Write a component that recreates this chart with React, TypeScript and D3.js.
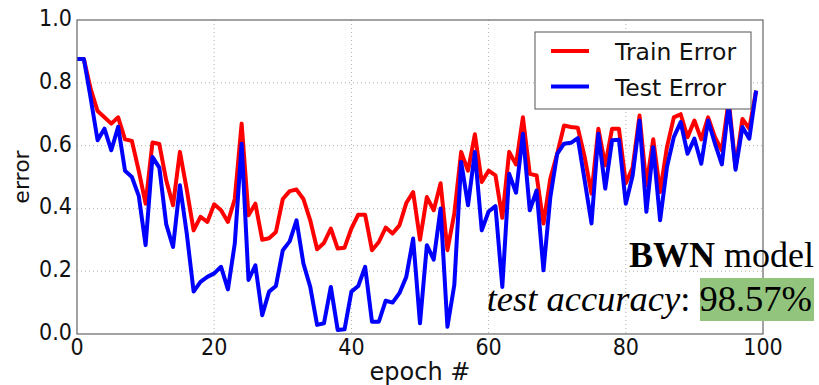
import * as d3 from 'd3';

const epochs = d3.range(0, 100);

const trainError = [
  0.876, 0.876, 0.78, 0.71, 0.69, 0.67, 0.69, 0.62, 0.615, 0.52,
  0.415, 0.61, 0.605, 0.49, 0.41, 0.58, 0.46, 0.33, 0.373, 0.357,
  0.413, 0.394, 0.357, 0.43, 0.67, 0.378, 0.415, 0.3, 0.305, 0.325,
  0.43, 0.455, 0.46, 0.43, 0.362, 0.27, 0.29, 0.336, 0.272, 0.275,
  0.336, 0.38, 0.38, 0.267, 0.293, 0.339, 0.32, 0.346, 0.417, 0.452,
  0.3, 0.436, 0.394, 0.48, 0.267, 0.383, 0.58, 0.52, 0.636, 0.484,
  0.52, 0.505, 0.37, 0.58, 0.54, 0.69, 0.51, 0.505, 0.352, 0.495,
  0.574, 0.664, 0.659, 0.657, 0.564, 0.447, 0.654, 0.537, 0.654, 0.654,
  0.48, 0.53, 0.696, 0.473, 0.62, 0.452, 0.595, 0.69, 0.7, 0.627,
  0.68, 0.62, 0.69, 0.627, 0.585, 0.745, 0.53, 0.685, 0.654, 0.775,
];

const testError = [
  0.876, 0.876, 0.75, 0.617, 0.654, 0.585, 0.66, 0.52, 0.5, 0.44,
  0.283, 0.564, 0.53, 0.35, 0.277, 0.474, 0.32, 0.135, 0.166, 0.182,
  0.193, 0.214, 0.142, 0.288, 0.606, 0.172, 0.219, 0.06, 0.135, 0.153,
  0.267, 0.295, 0.362, 0.225, 0.15, 0.029, 0.034, 0.15, 0.013, 0.015,
  0.135, 0.153, 0.214, 0.039, 0.039, 0.106, 0.1, 0.13, 0.182, 0.304,
  0.034, 0.283, 0.237, 0.4, 0.023, 0.156, 0.548, 0.41, 0.58, 0.33,
  0.39, 0.407, 0.15, 0.51, 0.45, 0.638, 0.394, 0.457, 0.203, 0.436,
  0.574, 0.606, 0.609, 0.624, 0.49, 0.352, 0.638, 0.463, 0.617, 0.619,
  0.415, 0.505, 0.68, 0.389, 0.595, 0.362, 0.532, 0.627, 0.675, 0.574,
  0.622, 0.542, 0.68, 0.606, 0.54, 0.73, 0.523, 0.659, 0.622, 0.775,
];

const xTicks = [0, 20, 40, 60, 80, 100];
const yTicks = [0, 0.2, 0.4, 0.6, 0.8, 1.0];

const seriesList = [
  { name: 'Train Error', values: trainError, color: '#ff0000' },
  { name: 'Test Error', values: testError, color: '#0000ff' },
];

const W = 819;
const H = 385;
const margin = { left: 77, right: 56, top: 20, bottom: 51 };
const sans = '"DejaVu Sans", sans-serif';
const serif = '"Liberation Serif", "Times New Roman", serif';

export default function App() {
  const x = d3.scaleLinear().domain([0, 100]).range([margin.left, W - margin.right]);
  const y = d3.scaleLinear().domain([0, 1]).range([H - margin.bottom, margin.top]);

  const line = d3.line<number>()
    .x((_, i) => x(epochs[i]))
    .y((d) => y(d));

  const [x0, x1] = x.range();
  const [y0, y1] = y.range();

  // tick labels in the reference are a bit narrow, squeeze them horizontally
  const squeeze = 0.9;

  return (
    <div style={{ position: 'fixed', left: 0, top: 0 }}>
      <svg width={W} height={H} style={{ display: 'block', background: '#fff' }}>
        <defs>
          <clipPath id="plot-clip">
            <rect x={x0} y={y1} width={x1 - x0} height={y0 - y1} />
          </clipPath>
        </defs>

        {/* grid */}
        {xTicks.slice(1, -1).map((t) => (
          <line key={`gx${t}`} x1={x(t)} x2={x(t)} y1={y1} y2={y0}
            stroke="#b0b0b0" strokeWidth={1} strokeDasharray="1 3" />
        ))}
        {yTicks.slice(1, -1).map((t) => (
          <line key={`gy${t}`} x1={x0} x2={x1} y1={y(t)} y2={y(t)}
            stroke="#b0b0b0" strokeWidth={1} strokeDasharray="1 3" />
        ))}

        {/* series */}
        <g clipPath="url(#plot-clip)">
          {seriesList.map((s) => (
            <path key={s.name} d={line(s.values) || ''} fill="none"
              stroke={s.color} strokeWidth={4} strokeLinejoin="round" />
          ))}
        </g>

        {/* frame */}
        <rect x={x0} y={y1} width={x1 - x0} height={y0 - y1}
          fill="none" stroke="#666" strokeWidth={1.2} />

        {/* y tick labels */}
        {yTicks.map((t) => (
          <text key={`yt${t}`} transform={`translate(${x0 - 5},${y(t) + 6}) scale(${squeeze},1)`}
            textAnchor="end" fontFamily={sans} fontSize={23} fill="#111">
            {t.toFixed(1)}
          </text>
        ))}
        {/* x tick labels */}
        {xTicks.map((t) => (
          <text key={`xt${t}`} transform={`translate(${x(t)},${y0 + 21}) scale(${squeeze},1)`}
            textAnchor="middle" fontFamily={sans} fontSize={23} fill="#111">
            {t}
          </text>
        ))}

        {/* axis labels */}
        <text x={(x0 + x1) / 2} y={380} textAnchor="middle"
          fontFamily={sans} fontSize={24} fill="#111">epoch #</text>
        <text transform={`translate(29,${(y0 + y1) / 2}) rotate(-90)`} textAnchor="middle"
          fontFamily={sans} fontSize={22} fill="#111">error</text>

        {/* legend */}
        <g>
          <rect x={535} y={32} width={216} height={77} fill="#fff" stroke="#555" strokeWidth={1} />
          {seriesList.map((s, i) => (
            <g key={s.name}>
              <line x1={551} x2={589} y1={51 + i * 35.5} y2={51 + i * 35.5}
                stroke={s.color} strokeWidth={4} />
              <text x={615} y={60 + i * 35.5} fontFamily={sans} fontSize={23.5} fill="#111">
                {s.name}
              </text>
            </g>
          ))}
        </g>

        {/* annotation */}
        <text x={814} y={267} textAnchor="end" fontFamily={serif} fontSize={36} fill="#000">
          <tspan fontWeight="bold">BWN</tspan> model
        </text>
        <rect x={700} y={278} width={114} height={43} fill="#93c47d" />
        <text x={812} y={311} textAnchor="end" fontFamily={serif} fontSize={36.5} fill="#000">
          <tspan fontStyle="italic">test accuracy</tspan>: 98.57%
        </text>
      </svg>
    </div>
  );
}
